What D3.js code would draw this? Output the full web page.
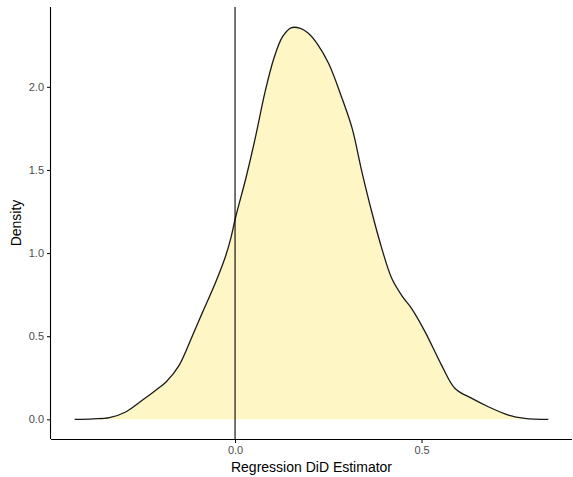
<!doctype html>
<html>
<head>
<meta charset="UTF-8">
<title>Regression DiD Estimator density</title>
<script src="https://d3js.org/d3.v7.min.js"></script>
<style>
	body {
		margin: 0;
		background: #fff;
	}
	.chart text {
		font-family: "Liberation Sans", Arial, sans-serif;
	}
	.axis text {
		font-size: 11px;
		fill: #4d4d4d;
	}
	.axis line, .axis path {
		stroke: #000;
	}
	.title {
		font-size: 14px;
		fill: #000;
	}
</style>
</head>

<body>
	<svg class="chart" width="573" height="477"></svg>
<script>
// density estimate
var estimate = [-0.430, -0.380, -0.337, -0.292, -0.248, -0.210, -0.185, -0.150, -0.114, -0.087,
	-0.052, -0.025, -0.012, 0.002, 0.029, 0.055, 0.080, 0.104, 0.127, 0.150,
	0.175, 0.195, 0.220, 0.251, 0.287, 0.314, 0.340, 0.367, 0.394, 0.421,
	0.450, 0.474, 0.510, 0.554, 0.590, 0.635, 0.679, 0.733, 0.777, 0.840];
var density = [0.000, 0.003, 0.010, 0.046, 0.116, 0.180, 0.225, 0.325, 0.505, 0.645,
	0.825, 0.984, 1.084, 1.220, 1.450, 1.700, 1.965, 2.170, 2.300, 2.355,
	2.352, 2.325, 2.260, 2.140, 1.930, 1.750, 1.490, 1.244, 1.024, 0.844,
	0.735, 0.665, 0.525, 0.325, 0.186, 0.126, 0.076, 0.026, 0.006, 0.000];
var xTicks = [0, 0.5];
var yTicks = [0, 0.5, 1, 1.5, 2];
var refLine = 0;

var chart = d3.select('.chart');
var margin = {top: 7, right: 1, bottom: 38, left: 51};
var width = +chart.attr('width') - margin.left - margin.right;
var height = +chart.attr('height') - margin.top - margin.bottom;

var data = estimate.map(function(d, i) {
	return {x: d, y: density[i]};
});

// ggplot style 5% expansion
var xExt = d3.extent(estimate);
var xPad = (xExt[1] - xExt[0]) * 0.05;
var yMax = 2.362;
var x = d3.scaleLinear()
	.domain([xExt[0] - xPad, xExt[1] + xPad])
	.range([0, width]);
var y = d3.scaleLinear()
	.domain([-yMax * 0.05, yMax * 1.05])
	.range([height, 0]);

var g = chart.append('g')
	.attr('transform', 'translate(' + margin.left + ',' + margin.top + ')');

var curve = d3.curveCatmullRom.alpha(0.5);
var area = d3.area()
	.x(function(d) { return x(d.x); })
	.y0(y(0))
	.y1(function(d) { return y(d.y); })
	.curve(curve);
var line = d3.line()
	.x(function(d) { return x(d.x); })
	.y(function(d) { return y(d.y); })
	.curve(curve);

g.append('path')
	.datum(data)
	.attr('d', area)
	.attr('fill', '#fef6c4');
g.append('path')
	.datum(data)
	.attr('d', line)
	.attr('fill', 'none')
	.attr('stroke', '#1a1a1a')
	.attr('stroke-width', 1.3);

g.append('line')
	.attr('x1', x(refLine))
	.attr('x2', x(refLine))
	.attr('y1', 0)
	.attr('y2', height)
	.attr('stroke', '#000')
	.attr('stroke-width', 1.1);

var xAxis = g.append('g')
	.attr('class', 'axis')
	.attr('transform', 'translate(0,' + height + ')')
	.call(d3.axisBottom(x).tickValues(xTicks).tickSize(4).tickPadding(3).tickFormat(d3.format('.1f')));
xAxis.select('.domain').attr('d', 'M0,0.5H' + width).attr('stroke-width', 1.1);
xAxis.selectAll('.tick line').attr('stroke', '#333');

var yAxis = g.append('g')
	.attr('class', 'axis')
	.call(d3.axisLeft(y).tickValues(yTicks).tickSize(4).tickPadding(3).tickFormat(d3.format('.1f')));
yAxis.select('.domain').attr('d', 'M-0.5,0V' + height).attr('stroke-width', 1.1);
yAxis.selectAll('.tick line').attr('stroke', '#333');

chart.append('text')
	.attr('class', 'title')
	.attr('x', margin.left + width / 2)
	.attr('y', 472)
	.attr('text-anchor', 'middle')
	.text('Regression DiD Estimator');

chart.append('text')
	.attr('class', 'title')
	.attr('transform', 'translate(21,' + (margin.top + height / 2) + ') rotate(-90)')
	.attr('text-anchor', 'middle')
	.text('Density');
</script>
</body>
</html>
